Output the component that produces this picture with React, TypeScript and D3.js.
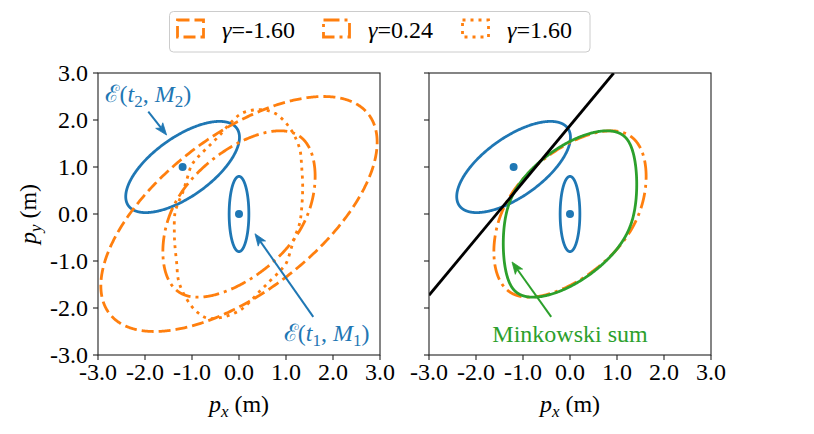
import React from "react";
import * as d3 from "d3";

// ---------- data ----------
const tickValues = [-3, -2, -1, 0, 1, 2, 3];
const tickLabels = ["-3.0", "-2.0", "-1.0", "0.0", "1.0", "2.0", "3.0"];

// ellipse shape matrices [xx, xy, yy] and centres
const ellipse1Center = [0.0, 0.0];
const ellipse1Shape = [0.044, 0.0, 0.64];
const ellipse2Center = [-1.2, 1.0];
const ellipse2Shape = [1.464, 0.762, 0.941];

const gammaLabels = ["-1.60", "0.24", "1.60"];
// gamma = -1.60 : ellipse about the origin
const gammaNegShape = [8.64, 4.49, 6.25];
// gamma = 0.24 : centred E2 summed with this ellipse
const gammaMidShape = [0.168, 0.07, 0.64];
// gamma = 1.60 : boundary
const gammaPosX = [1.33, 1.355, 1.333, 1.298, 1.191, 1.085, 0.943, 0.766, 0.553, 0.305, 0.057, -0.156, -0.44, -0.653, -0.866, -1.007, -1.113, -1.2, -1.3, -1.362, -1.376, -1.362, -1.326, -1.291, -1.185, -1.007, -0.866, -0.688, -0.44, -0.2, 0.02, 0.2, 0.44, 0.653, 0.866, 1.007, 1.113, 1.2, 1.29];
const gammaPosY = [0.085, 0.58, 1.007, 1.362, 1.645, 1.823, 2.0, 2.142, 2.213, 2.213, 2.142, 1.964, 1.645, 1.432, 1.219, 1.043, 0.723, 0.45, 0.22, 0.02, -0.404, -0.688, -1.043, -1.397, -1.681, -1.965, -2.106, -2.213, -2.213, -2.15, -2.05, -1.9, -1.645, -1.432, -1.219, -1.043, -0.723, -0.45, -0.2];

// separating line
const lineX = [-3.0, 0.93];
const lineY = [-1.73, 3.0];

// annotations (data coords)
const arrowE2From = [-1.93, 2.18];
const arrowE2To = [-1.54, 1.68];
const labelE2At = [-1.93, 2.383];
const arrowE1From = [1.58, -2.19];
const arrowE1To = [0.34, -0.42];
const labelE1At = [1.864, -2.7];
const arrowMinkFrom = [-0.4, -2.19];
const arrowMinkTo = [-1.234, -1.02];
const labelMinkAt = [0.0, -2.72];

// ---------- styling ----------
const BLUE = "#1f77b4";
const ORANGE = "#ff7f0e";
const GREEN = "#2ca02c";
const FONT = "Liberation Serif, DejaVu Serif, serif";
const FS = 24;
const SUB = 17;
const LW = 2.8;
const DASHES = ["12 5", "16 5 3 5", "3 5"];
const TXT: any = { fontFamily: FONT, fontSize: FS };

const W = 814, H = 434;
const Y0 = 73, Y1 = 355;
const LEFT = [98, 380];
const RIGHT = [429, 711];

type Pt = [number, number];

function boundary(shapes: number[][], center: number[], n = 720): Pt[] {
  const pts: Pt[] = [];
  for (let i = 0; i < n; i++) {
    const a = (2 * Math.PI * i) / n;
    const nx = Math.cos(a), ny = Math.sin(a);
    let x = center[0], y = center[1];
    for (const Q of shapes) {
      const q = Q[0] * nx * nx + 2 * Q[1] * nx * ny + Q[2] * ny * ny;
      const s = Math.sqrt(Math.max(q, 1e-12));
      x += (Q[0] * nx + Q[1] * ny) / s;
      y += (Q[1] * nx + Q[2] * ny) / s;
    }
    pts.push([x, y]);
  }
  return pts;
}

const yScale = d3.scaleLinear().domain([-3, 3]).range([Y1, Y0]);

function Arrow({ xs, from, to, color }: any) {
  const x1 = xs(from[0]), y1 = yScale(from[1]);
  const x2 = xs(to[0]), y2 = yScale(to[1]);
  const dx = x2 - x1, dy = y2 - y1;
  const L = Math.hypot(dx, dy);
  const ux = dx / L, uy = dy / L;
  const hl = 12, hw = 4.5, notch = 3;
  const bx = x2 - ux * hl, by = y2 - uy * hl;
  const px = -uy, py = ux;
  const nxp = x2 - ux * (hl - notch), nyp = y2 - uy * (hl - notch);
  const head = `M${x2},${y2}L${bx + px * hw},${by + py * hw}L${nxp},${nyp}L${bx - px * hw},${by - py * hw}Z`;
  return (
    <g>
      <line x1={x1} y1={y1} x2={nxp} y2={nyp} stroke={color} strokeWidth={2} />
      <path d={head} fill={color} stroke={color} strokeWidth={0.8} strokeLinejoin="miter" />
    </g>
  );
}

function Axes({ range, showY, clipId, children }: any) {
  const xs = d3.scaleLinear().domain([-3, 3]).range(range);
  return (
    <g>
      <defs>
        <clipPath id={clipId}>
          <rect x={range[0]} y={Y0} width={range[1] - range[0]} height={Y1 - Y0} />
        </clipPath>
      </defs>
      <g clipPath={`url(#${clipId})`}>{children(xs)}</g>
      <rect x={range[0]} y={Y0} width={range[1] - range[0]} height={Y1 - Y0} fill="none" stroke="#222" strokeWidth={1.1} />
      {tickValues.map((t, i) => (
        <g key={"x" + i}>
          <line x1={xs(t)} x2={xs(t)} y1={Y1} y2={Y1 + 5} stroke="#222" strokeWidth={1.1} />
          <text x={xs(t)} y={Y1 + 25} textAnchor="middle" style={TXT}>{tickLabels[i]}</text>
        </g>
      ))}
      {tickValues.map((t, i) => (
        <g key={"y" + i}>
          <line x1={range[0] - 5} x2={range[0]} y1={yScale(t)} y2={yScale(t)} stroke="#222" strokeWidth={1.1} />
          {showY && (
            <text x={range[0] - 10} y={yScale(t) + 8} textAnchor="end" style={TXT}>{tickLabels[i]}</text>
          )}
        </g>
      ))}
      <text x={(range[0] + range[1]) / 2} y={412} textAnchor="middle" style={TXT}>
        <tspan fontStyle="italic">p</tspan>
        <tspan fontStyle="italic" fontSize={SUB} dy={5}>x</tspan>
        <tspan dy={-5}> (m)</tspan>
      </text>
    </g>
  );
}

function EllipseLabel({ x, y, idx }: any) {
  return (
    <text x={x} y={y} textAnchor="middle" style={TXT} fill={BLUE}>
      <tspan>ℰ(</tspan>
      <tspan fontStyle="italic">t</tspan>
      <tspan fontSize={SUB} dy={5}>{idx}</tspan>
      <tspan dy={-5}>, </tspan>
      <tspan fontStyle="italic">M</tspan>
      <tspan fontSize={SUB} dy={5}>{idx}</tspan>
      <tspan dy={-5}>)</tspan>
    </text>
  );
}

export default function App() {
  const e1 = boundary([ellipse1Shape], ellipse1Center);
  const e2 = boundary([ellipse2Shape], ellipse2Center);
  const gNeg = boundary([gammaNegShape], [0, 0]);
  const gMid = boundary([ellipse2Shape, gammaMidShape], [0, 0]);
  const gPos: Pt[] = gammaPosX.map((x, i) => [x, gammaPosY[i]]);
  const mink = boundary([ellipse2Shape, ellipse1Shape], [0, 0]);

  const mk = (xs: any, curve: any) =>
    d3.line<Pt>().x((d) => xs(d[0])).y((d) => yScale(d[1])).curve(curve);

  const closed = d3.curveLinearClosed;
  const smooth = d3.curveCatmullRomClosed.alpha(0.5);

  const legendHandles = [177.5, 323.5, 462.5];
  const legendTexts = [222, 368, 507];

  return (
    <svg width={W} height={H} style={{ position: "absolute", left: 0, top: 0, background: "#fff" }}>
      <rect x={0} y={0} width={W} height={H} fill="#fff" />
      {/* left panel */}
      <Axes range={LEFT} showY={true} clipId="clipL">
        {(xs: any) => {
          const L = mk(xs, closed);
          return (
            <g fill="none">
              <path d={L(e1)!} stroke={BLUE} strokeWidth={LW} />
              <path d={L(e2)!} stroke={BLUE} strokeWidth={LW} />
              <path d={L(gNeg)!} stroke={ORANGE} strokeWidth={LW} strokeDasharray={DASHES[0]} />
              <path d={L(gMid)!} stroke={ORANGE} strokeWidth={LW} strokeDasharray={DASHES[1]} />
              <path d={mk(xs, smooth)(gPos)!} stroke={ORANGE} strokeWidth={LW} strokeDasharray={DASHES[2]} />
              <circle cx={xs(ellipse1Center[0])} cy={yScale(ellipse1Center[1])} r={4} fill={BLUE} />
              <circle cx={xs(ellipse2Center[0])} cy={yScale(ellipse2Center[1])} r={4} fill={BLUE} />
            </g>
          );
        }}
      </Axes>
      {(() => {
        const xs = d3.scaleLinear().domain([-3, 3]).range(LEFT);
        return (
          <g>
            <Arrow xs={xs} from={arrowE2From} to={arrowE2To} color={BLUE} />
            <Arrow xs={xs} from={arrowE1From} to={arrowE1To} color={BLUE} />
            <EllipseLabel x={xs(labelE2At[0])} y={yScale(labelE2At[1])} idx="2" />
            <EllipseLabel x={xs(labelE1At[0])} y={yScale(labelE1At[1])} idx="1" />
          </g>
        );
      })()}
      {/* right panel */}
      <Axes range={RIGHT} showY={false} clipId="clipR">
        {(xs: any) => {
          const L = mk(xs, closed);
          const seg = d3.line<Pt>().x((d) => xs(d[0])).y((d) => yScale(d[1]));
          const linePts: Pt[] = lineX.map((x, i) => [x, lineY[i]]);
          return (
            <g fill="none">
              <path d={L(e1)!} stroke={BLUE} strokeWidth={LW} />
              <path d={L(e2)!} stroke={BLUE} strokeWidth={LW} />
              <path d={L(gMid)!} stroke={ORANGE} strokeWidth={LW} strokeDasharray={DASHES[1]} />
              <path d={L(mink)!} stroke={GREEN} strokeWidth={LW} />
              <path d={seg(linePts)!} stroke="#000" strokeWidth={LW} />
              <circle cx={xs(ellipse1Center[0])} cy={yScale(ellipse1Center[1])} r={4} fill={BLUE} />
              <circle cx={xs(ellipse2Center[0])} cy={yScale(ellipse2Center[1])} r={4} fill={BLUE} />
            </g>
          );
        }}
      </Axes>
      {(() => {
        const xs = d3.scaleLinear().domain([-3, 3]).range(RIGHT);
        return (
          <g>
            <Arrow xs={xs} from={arrowMinkFrom} to={arrowMinkTo} color={GREEN} />
            <text x={xs(labelMinkAt[0])} y={yScale(labelMinkAt[1])} textAnchor="middle" style={TXT} fill={GREEN}>
              Minkowski sum
            </text>
          </g>
        );
      })()}
      {/* y label */}
      <text transform="translate(36,214) rotate(-90)" textAnchor="middle" style={TXT}>
        <tspan fontStyle="italic">p</tspan>
        <tspan fontStyle="italic" fontSize={SUB} dy={5}>y</tspan>
        <tspan dy={-5}> (m)</tspan>
      </text>
      {/* legend */}
      <rect x={169.5} y={11.5} width={420.5} height={40.5} rx={4} fill="#fff" fillOpacity={0.8} stroke="#ccc" strokeWidth={1} />
      {gammaLabels.map((g, i) => (
        <g key={g}>
          <rect x={legendHandles[i]} y={20} width={26} height={17} fill="none" stroke={ORANGE} strokeWidth={LW} strokeDasharray={DASHES[i]} />
          <text x={legendTexts[i]} y={38} style={TXT}>
            <tspan fontStyle="italic">γ</tspan>
            <tspan>={g}</tspan>
          </text>
        </g>
      ))}
    </svg>
  );
}
